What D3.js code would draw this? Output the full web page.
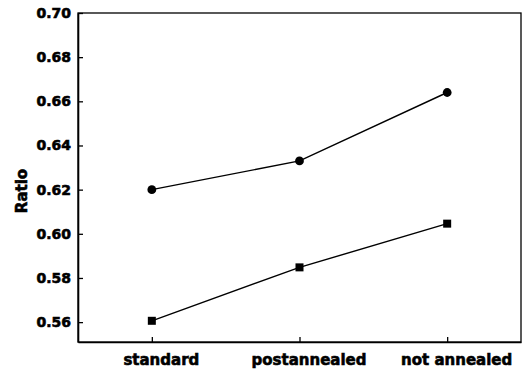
<!DOCTYPE html>
<html>
<head>
<meta charset="utf-8">
<script src="https://cdn.jsdelivr.net/npm/d3@7"></script>
<style>
  html, body { margin: 0; padding: 0; background: #fff; }
  svg { display: block; }
  text { font-family: "DejaVu Sans", Arial, sans-serif; font-weight: bold; fill: #000; }
</style>
</head>
<body>
<script>
// Sample treatment categories
const categories = ["standard", "postannealed", "not annealed"];
// Ratio values for the two series (circles above, squares below)
const circleSeries = [0.620, 0.633, 0.664];
const squareSeries = [0.5606, 0.5848, 0.6046];
// Y axis tick values
const yTicks = [0.56, 0.58, 0.60, 0.62, 0.64, 0.66, 0.68, 0.70];

const width = 522, height = 381;
const plot = { left: 78, right: 521, top: 13, bottom: 342 };

const svg = d3.select("body").append("svg")
  .attr("width", width).attr("height", height);

const x = d3.scalePoint()
  .domain(categories)
  .range([plot.left, plot.right])
  .padding(0.5);

const y = d3.scaleLinear()
  .domain([0.551, 0.70])
  .range([plot.bottom, plot.top]);

// Heavy lettering for all labels
function heavy(sel, size) {
  sel.style("font-size", size + "px")
    .style("font-family", "'DejaVu Sans', Arial, sans-serif")
    .style("font-weight", "bold")
    .attr("fill", "#000")
    .attr("stroke", "#000")
    .attr("stroke-width", 0.6)
    .attr("paint-order", "stroke");
}

// Frame
svg.append("rect")
  .attr("x", plot.left).attr("y", plot.top)
  .attr("width", plot.right - plot.left)
  .attr("height", plot.bottom - plot.top)
  .attr("fill", "none").attr("stroke", "#000").attr("stroke-width", 1.3);

// Left axis with inward ticks
const yAxis = d3.axisLeft(y)
  .tickValues(yTicks)
  .tickFormat(d3.format(".2f"))
  .tickSizeInner(-5)
  .tickSizeOuter(0)
  .tickPadding(7);

const gy = svg.append("g")
  .attr("transform", `translate(${plot.left},0)`)
  .call(yAxis);
gy.select(".domain").attr("stroke", "#000").attr("stroke-width", 1.6);
gy.selectAll(".tick line").attr("stroke", "#000").attr("stroke-width", 1.3);
gy.selectAll(".tick text").attr("x", -7).call(heavy, 14);

// Bottom axis with inward ticks
const xAxis = d3.axisBottom(x)
  .tickSizeInner(-5)
  .tickSizeOuter(0)
  .tickPadding(14);

const gx = svg.append("g")
  .attr("transform", `translate(0,${plot.bottom})`)
  .call(xAxis);
gx.select(".domain").attr("stroke", "#000").attr("stroke-width", 1.6);
gx.selectAll(".tick line").attr("stroke", "#000").attr("stroke-width", 1.3);
gx.selectAll(".tick text")
  .attr("y", 23)
  .attr("dy", 0)
  .attr("dx", 9)
  .call(heavy, 15);

// Y axis title
svg.append("text")
  .attr("transform", `translate(27,191) rotate(-90)`)
  .attr("text-anchor", "middle")
  .call(heavy, 15)
  .text("Ratio");

const line = d3.line()
  .x((d, i) => x(categories[i]))
  .y(d => y(d));

// Circle series
svg.append("path")
  .datum(circleSeries)
  .attr("d", line)
  .attr("fill", "none").attr("stroke", "#000").attr("stroke-width", 1.4);
svg.append("g").selectAll("circle")
  .data(circleSeries)
  .join("circle")
  .attr("cx", (d, i) => x(categories[i]))
  .attr("cy", d => y(d))
  .attr("r", 4.4)
  .attr("fill", "#000");

// Square series
svg.append("path")
  .datum(squareSeries)
  .attr("d", line)
  .attr("fill", "none").attr("stroke", "#000").attr("stroke-width", 1.4);
const sq = 8;
svg.append("g").selectAll("rect")
  .data(squareSeries)
  .join("rect")
  .attr("x", (d, i) => x(categories[i]) - sq / 2)
  .attr("y", d => y(d) - sq / 2)
  .attr("width", sq).attr("height", sq)
  .attr("fill", "#000");
</script>
</body>
</html>
